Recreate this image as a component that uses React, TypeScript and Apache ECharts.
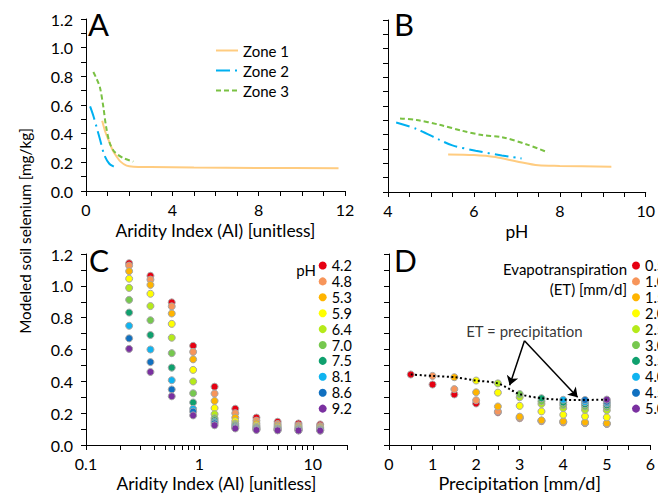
import React, { useEffect, useRef } from "react";
import * as echarts from "echarts";

// ---------- Panel A (Aridity index vs Se) ----------
const zone1A = [[0.75, 0.49], [0.9, 0.41], [1.1, 0.335], [1.25, 0.28], [1.42, 0.24], [1.6, 0.205], [1.88, 0.177], [2.2, 0.17], [3, 0.168], [5, 0.164], [8, 0.161], [11.7, 0.158]];
const zone2A = [[0.19, 0.59], [0.35, 0.52], [0.5, 0.44], [0.65, 0.36], [0.85, 0.25], [1.08, 0.19], [1.3, 0.17], [1.5, 0.157]];
const zone3A = [[0.34, 0.83], [0.5, 0.78], [0.65, 0.72], [0.8, 0.59], [0.93, 0.45], [1.11, 0.33], [1.34, 0.27], [1.73, 0.23], [2.19, 0.205]];

// ---------- Panel B (pH vs Se) ----------
const zone1B = [[5.4, 0.262], [6.0, 0.258], [6.5, 0.244], [7.0, 0.213], [7.5, 0.186], [8.0, 0.182], [9.2, 0.176]];
const zone2B = [[4.19, 0.485], [4.66, 0.44], [5.2, 0.364], [5.5, 0.325], [6.04, 0.288], [6.65, 0.255], [7.11, 0.234]];
const zone3B = [[4.28, 0.513], [4.66, 0.503], [5.2, 0.469], [5.73, 0.427], [6.19, 0.397], [6.65, 0.383], [7.26, 0.329], [7.72, 0.276]];

const zoneNames = ["Zone 1", "Zone 2", "Zone 3"];

// ---------- Panel C (AI log scale, by pH) ----------
const cAI = [0.24, 0.37, 0.57, 0.88, 1.36, 2.07, 3.18, 4.89, 7.47, 11.6];
const pHLabels = ["4.2", "4.8", "5.3", "5.9", "6.4", "7.0", "7.5", "8.1", "8.6", "9.2"];
const se_pH42 = [1.142, 1.063, 0.896, 0.623, 0.366, 0.228, 0.172, 0.146, 0.135, 0.129];
const se_pH48 = [1.127, 1.039, 0.871, 0.585, 0.323, 0.2, 0.153, 0.132, 0.124, 0.119];
const se_pH53 = [1.092, 1.006, 0.826, 0.538, 0.277, 0.172, 0.136, 0.121, 0.115, 0.111];
const se_pH59 = [1.045, 0.95, 0.761, 0.472, 0.232, 0.15, 0.124, 0.113, 0.108, 0.105];
const se_pH64 = [0.987, 0.873, 0.674, 0.399, 0.194, 0.135, 0.115, 0.106, 0.103, 0.1];
const se_pH70 = [0.912, 0.784, 0.577, 0.325, 0.168, 0.126, 0.109, 0.102, 0.099, 0.097];
const se_pH75 = [0.832, 0.691, 0.486, 0.267, 0.155, 0.119, 0.104, 0.099, 0.096, 0.095];
const se_pH81 = [0.749, 0.6, 0.407, 0.227, 0.145, 0.113, 0.1, 0.096, 0.094, 0.093];
const se_pH86 = [0.67, 0.521, 0.349, 0.21, 0.136, 0.108, 0.097, 0.094, 0.092, 0.092];
const se_pH92 = [0.604, 0.459, 0.306, 0.186, 0.124, 0.104, 0.094, 0.092, 0.091, 0.09];
const sePH = [se_pH42, se_pH48, se_pH53, se_pH59, se_pH64, se_pH70, se_pH75, se_pH81, se_pH86, se_pH92];

// ---------- Panel D (precipitation, by ET) ----------
const precip = [0.5, 1.0, 1.5, 2.0, 2.5, 3.0, 3.5, 4.0, 4.5, 5.0];
const etLabels = ["0.5", "1.0", "1.5", "2.0", "2.5", "3.0", "3.5", "4.0", "4.5", "5.0"];
const se_ET05 = [0.443, 0.38, 0.318, 0.261, 0.205, 0.168, 0.15, 0.142, 0.137, 0.132];
const se_ET10 = [null, 0.434, 0.351, 0.281, 0.211, 0.172, 0.152, 0.145, 0.14, 0.134];
const se_ET15 = [null, null, 0.426, 0.331, 0.242, 0.178, 0.155, 0.149, 0.143, 0.137];
const se_ET20 = [null, null, null, 0.405, 0.329, 0.246, 0.211, 0.19, 0.18, 0.174];
const se_ET25 = [null, null, null, null, 0.387, 0.3, 0.258, 0.232, 0.221, 0.218];
const se_ET30 = [null, null, null, null, null, 0.32, 0.275, 0.252, 0.242, 0.237];
const se_ET35 = [null, null, null, null, null, null, 0.294, 0.267, 0.256, 0.25];
const se_ET40 = [null, null, null, null, null, null, null, 0.284, 0.269, 0.262];
const se_ET45 = [null, null, null, null, null, null, null, null, 0.283, 0.272];
const se_ET50 = [null, null, null, null, null, null, null, null, null, 0.285];
const seET = [se_ET05, se_ET10, se_ET15, se_ET20, se_ET25, se_ET30, se_ET35, se_ET40, se_ET45, se_ET50];

const annotationText = "ET = precipitation";
const annotationAnchor = [3.11, 0.715];
const arrowStart = [3.11, 0.655];
const arrowTips = [[2.77, 0.376], [4.33, 0.3]];

// tick positions
const logTicks = [0.1, 0.2, 0.3, 0.4, 0.5, 0.6, 0.7, 0.8, 0.9, 1, 2, 3, 4, 5, 6, 7, 8, 9, 10, 20];
const logLabels = [0.1, 1, 10];

const palette = ["#E60012", "#F7955A", "#FFB400", "#FFFF00", "#B5EA1A", "#76C84E", "#0FA06E", "#10B4F0", "#1070C0", "#7A30A0"];
const zoneColors = ["#FFCC80", "#00B0F0", "#7AC143"];
const zoneDash: any[] = ["solid", [14, 5, 2, 5], [5, 3]];

const FONT = "Lato";

export default function App() {
  const ref = useRef<HTMLDivElement>(null);
  useEffect(() => {
    const chart = echarts.init(ref.current!, null, { renderer: "svg" });
    const axisLine = { lineStyle: { color: "#000", width: 1 } };
    const axisTick = { length: 5, lineStyle: { color: "#000" } };
    const minorTick = (n: number) => ({ show: true, splitNumber: n, length: 5, lineStyle: { color: "#000" } });
    const lbl = { color: "#000", fontSize: 16, fontFamily: FONT };
    const nameStyle = { color: "#000", fontSize: 17.4, fontFamily: FONT };

    const yAxisBase = (idx: number, showLabel: boolean) => ({
      type: "value",
      gridIndex: idx,
      min: 0,
      max: 1.2,
      interval: 0.2,
      axisLine: { show: true, ...axisLine },
      axisTick: { show: true, ...axisTick },
      minorTick: minorTick(2),
      splitLine: { show: false },
      axisLabel: { show: showLabel, ...lbl, margin: 13, formatter: (v: number) => v.toFixed(1) },
    });

    const zoneSeries = (data: number[][], i: number, grid: number) => ({
      type: "line",
      name: zoneNames[i],
      xAxisIndex: grid,
      yAxisIndex: grid,
      data,
      smooth: 0.3,
      symbol: "none",
      showSymbol: false,
      lineStyle: { color: zoneColors[i], width: 2, type: zoneDash[i] },
      itemStyle: { color: zoneColors[i] },
    });

    const series: any[] = [];
    [zone1A, zone2A, zone3A].forEach((d, i) => series.push(zoneSeries(d, i, 0)));
    [zone1B, zone2B, zone3B].forEach((d, i) => series.push(zoneSeries(d, i, 1)));

    sePH.forEach((vals, i) => {
      series.push({
        type: "scatter",
        name: pHLabels[i],
        xAxisIndex: 2,
        yAxisIndex: 2,
        symbolSize: 7,
        itemStyle: { color: palette[i], borderColor: "#A6A6A6", borderWidth: 1, opacity: 1 },
        data: cAI.map((x, j) => [x, vals[j]]),
      });
    });

    seET.forEach((vals, i) => {
      const data: number[][] = [];
      precip.forEach((p, j) => {
        if (vals[j] != null) data.push([p, vals[j] as number]);
      });
      series.push({
        type: "scatter",
        name: etLabels[i],
        xAxisIndex: 3,
        yAxisIndex: 3,
        symbolSize: 7,
        itemStyle: { color: palette[i], borderColor: "#A6A6A6", borderWidth: 1, opacity: 1 },
        data,
      });
    });

    // ET = precipitation dotted line (diagonal of the matrix)
    series.push({
      type: "line",
      name: "ET=P",
      xAxisIndex: 3,
      yAxisIndex: 3,
      data: precip.map((p, i) => [p, seET[i][i] as number]),
      smooth: 0.3,
      symbol: "none",
      z: 5,
      lineStyle: { color: "#000", width: 2, type: [2, 2.5] },
    });

    series.push({
      type: "lines",
      coordinateSystem: "cartesian2d",
      xAxisIndex: 3,
      yAxisIndex: 3,
      symbol: ["none", "arrow"],
      symbolSize: 9,
      z: 6,
      lineStyle: { color: "#000", width: 1.5, opacity: 1 },
      data: arrowTips.map((t) => ({ coords: [arrowStart, t] })),
    });

    series.push({
      type: "scatter",
      name: "annot",
      xAxisIndex: 3,
      yAxisIndex: 3,
      symbolSize: 0,
      silent: true,
      data: [annotationAnchor],
      label: { show: true, position: "inside", formatter: annotationText, color: "#000", fontSize: 15, fontFamily: FONT },
    });

    const legendText = { color: "#000", fontSize: 15, fontFamily: FONT, lineHeight: 15 };
    const legendNumText = { color: "#000", fontSize: 14.5, fontFamily: FONT, lineHeight: 15 };

    const option: any = {
      animation: false,
      textStyle: { fontFamily: FONT },
      grid: [
        { left: 86, top: 19, width: 259, height: 172 },
        { left: 388, top: 20, width: 261, height: 172 },
        { left: 86, top: 254, width: 261, height: 193 },
        { left: 389, top: 254, width: 262, height: 193 },
      ],
      xAxis: [
        {
          type: "value", gridIndex: 0, min: 0, max: 12, interval: 4,
          axisLine: { show: true, onZero: false, ...axisLine }, axisTick: { show: true, ...axisTick }, minorTick: minorTick(4),
          splitLine: { show: false }, axisLabel: { ...lbl, margin: 10 },
          name: "Aridity Index (AI) [unitless]", nameLocation: "middle", nameGap: 31, nameTextStyle: nameStyle,
        },
        {
          type: "value", gridIndex: 1, min: 4, max: 10, interval: 2,
          axisLine: { show: true, onZero: false, ...axisLine }, axisTick: { show: true, ...axisTick }, minorTick: minorTick(4),
          splitLine: { show: false }, axisLabel: { ...lbl, margin: 10 },
          name: "pH", nameLocation: "middle", nameGap: 31, nameTextStyle: nameStyle,
        },
        {
          type: "log", gridIndex: 2, logBase: 10, min: 0.1, max: 20,
          axisLine: { show: true, onZero: false, ...axisLine },
          axisTick: { show: true, ...axisTick, customValues: logTicks },
          splitLine: { show: false },
          axisLabel: { ...lbl, margin: 10, customValues: logLabels, formatter: (v: number) => String(+v.toPrecision(4)) },
          name: "Aridity Index (AI) [unitless]", nameLocation: "middle", nameGap: 30, nameTextStyle: nameStyle,
        },
        {
          type: "value", gridIndex: 3, min: 0, max: 6, interval: 1,
          axisLine: { show: true, onZero: false, ...axisLine }, axisTick: { show: true, ...axisTick }, minorTick: minorTick(2),
          splitLine: { show: false }, axisLabel: { ...lbl, margin: 10 },
          name: "Precipitation [mm/d]", nameLocation: "middle", nameGap: 29, nameTextStyle: { ...nameStyle, fontSize: 18 },
        },
      ],
      yAxis: [yAxisBase(0, true), yAxisBase(1, false), yAxisBase(2, true), yAxisBase(3, false)],
      legend: [
        {
          data: zoneNames, orient: "vertical", left: 215, top: 43, padding: 0, itemWidth: 22, itemHeight: 10, itemGap: 5,
          selectedMode: false, itemStyle: { opacity: 0 }, textStyle: legendText,
        },
        {
          data: pHLabels, orient: "vertical", left: 318.7, top: 258, padding: 0, itemWidth: 8, itemHeight: 8, itemGap: 0.9,
          icon: "circle", selectedMode: false, itemStyle: { borderWidth: 0 }, textStyle: legendNumText,
        },
        {
          data: etLabels, orient: "vertical", left: 632, top: 258, padding: 0, itemWidth: 8, itemHeight: 8, itemGap: 0.9,
          icon: "circle", selectedMode: false, itemStyle: { borderWidth: 0 }, textStyle: legendNumText,
        },
      ],
      graphic: [
        { type: "text", x: 25, y: 231, rotation: Math.PI / 2, style: { text: "Modeled soil selenium [mg/kg]", fill: "#000", fontSize: 15.3, fontFamily: FONT, align: "center", verticalAlign: "middle" } },
        { type: "text", x: 88, y: 8, style: { text: "A", fill: "#000", fontSize: 31, fontFamily: FONT } },
        { type: "text", x: 394, y: 8, style: { text: "B", fill: "#000", fontSize: 31, fontFamily: FONT } },
        { type: "text", x: 89, y: 245, style: { text: "C", fill: "#000", fontSize: 30, fontFamily: FONT } },
        { type: "text", x: 394, y: 245, style: { text: "D", fill: "#000", fontSize: 30, fontFamily: FONT } },
        { type: "text", x: 316, y: 270, style: { text: "pH", fill: "#000", fontSize: 15, fontFamily: FONT, align: "right", verticalAlign: "middle" } },
        { type: "text", x: 627, y: 269, style: { text: "Evapotranspiration", fill: "#000", fontSize: 15, fontFamily: FONT, align: "right", verticalAlign: "middle" } },
        { type: "text", x: 627, y: 289, style: { text: "(ET) [mm/d]", fill: "#000", fontSize: 15, fontFamily: FONT, align: "right", verticalAlign: "middle" } },
      ],
      series,
    };
    chart.setOption(option);
    return () => chart.dispose();
  }, []);
  return <div ref={ref} style={{ position: "fixed", left: 0, top: 0, width: 658, height: 493, background: "#fff" }} />;
}
